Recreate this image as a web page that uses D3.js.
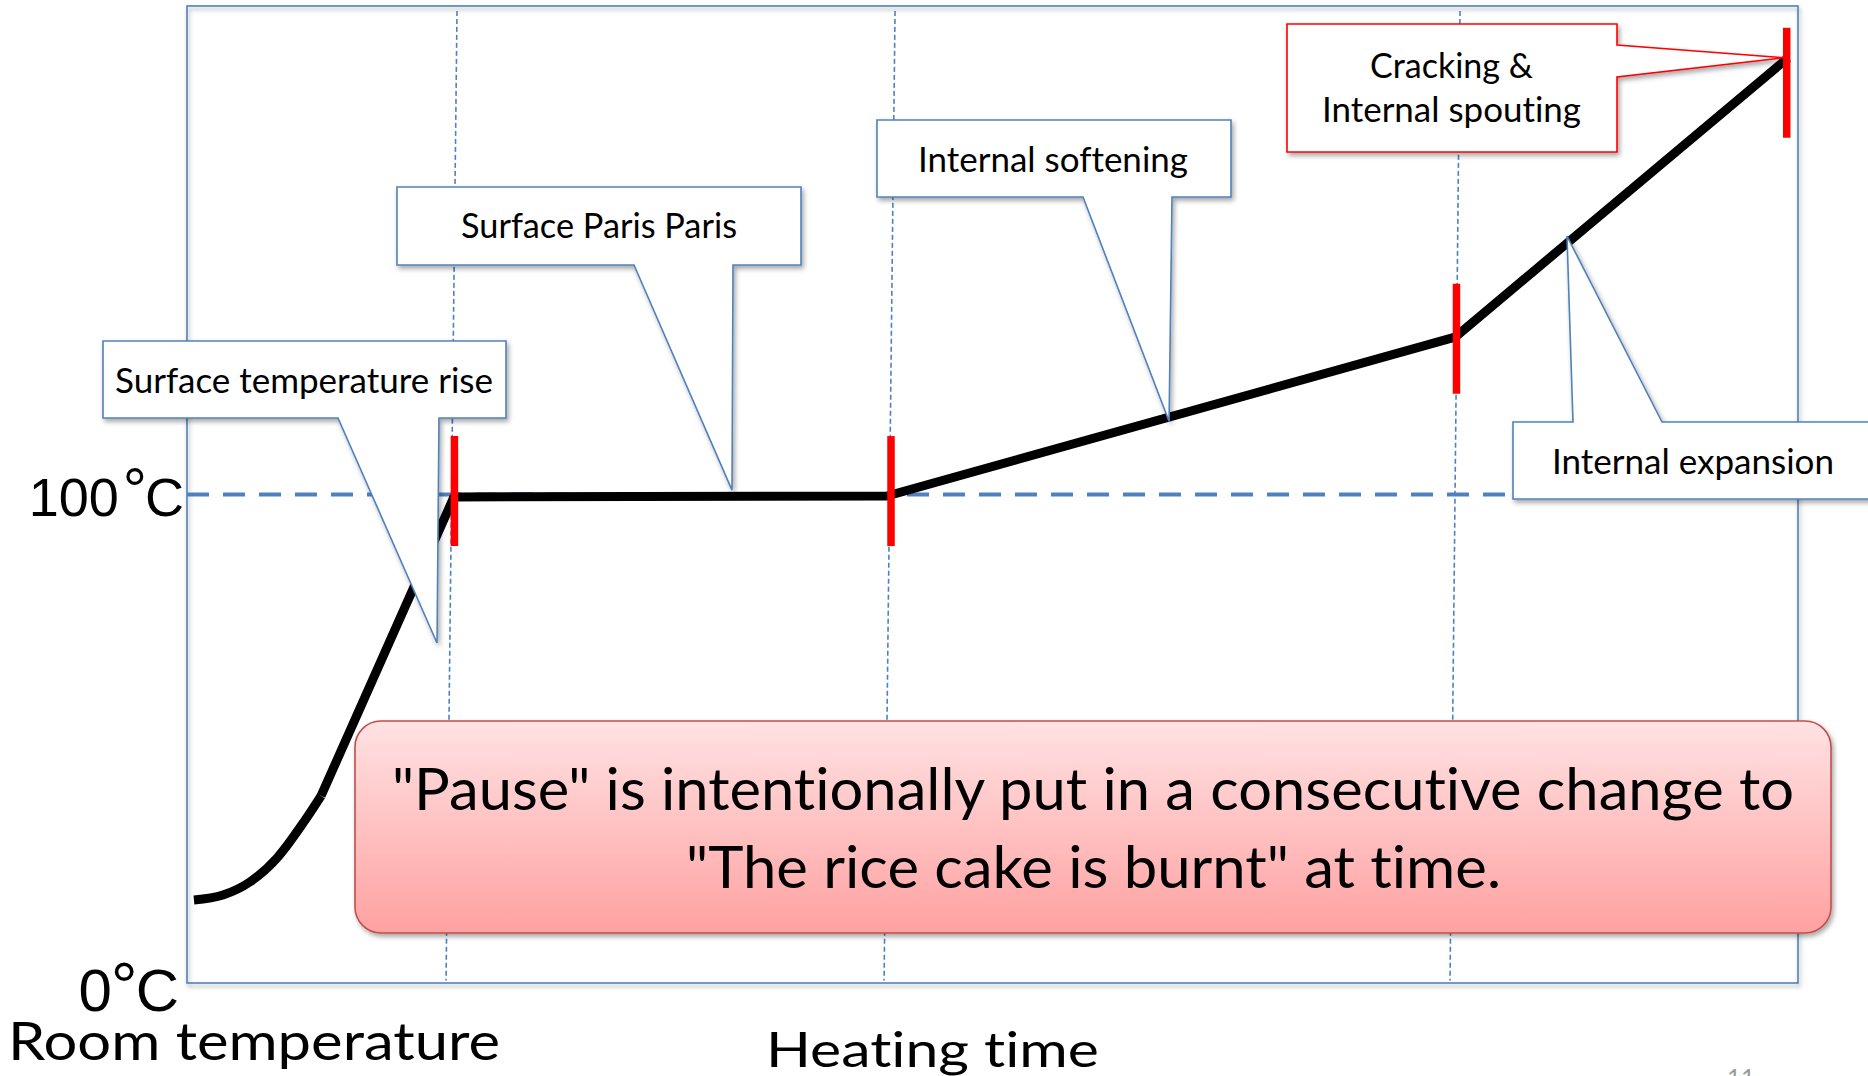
<!DOCTYPE html>
<html><head><meta charset="utf-8">
<script src="https://cdn.jsdelivr.net/npm/d3@7"></script>
<style>html,body{margin:0;padding:0;background:#fff;overflow:hidden} text{font-variant-ligatures:none;font-feature-settings:"liga" 0,"clig" 0}</style>
</head><body><svg id="c" width="1868" height="1076"></svg>
<script>
// ---------- data ----------
const warmupTime = [0.43, 2.23, 3.91, 5.59, 7.26, 8.32];
const warmupTemp = [17.0, 18.0, 20.7, 25.6, 33.0, 38.3];
const heatingTime = [8.32, 16.57, 43.45, 78.71, 99.38];
const heatingTemp = [38.3, 99.5, 99.7, 132.2, 189.4];
const stageTime = [16.6, 43.7, 78.8, 99.3];
const stageTemp = [100.7, 100.7, 131.9, 184.3];
const boundaryTopTime = [16.76, 43.95, 79.02];
const boundaryBottomTime = [16.08, 43.27, 78.40];
const referenceTemp = [100];
const yTickValues = [0, 100];
const yTickLabels = [["0", "°", "C"], ["100", "°", "C"]];
const calloutLabels = [["Surface temperature rise"], ["Surface Paris Paris"], ["Internal softening"], ["Cracking &", "Internal spouting"], ["Internal expansion"]];
const calloutTipTime = [15.52, 33.83, 60.96, 99.13, 85.66];
const calloutTipTemp = [69.6, 100.9, 115.0, 189.4, 152.9];
const noteLines = ['"Pause" is intentionally put in a consecutive change to', '"The rice cake is burnt" at time.'];
const xAxisTitle = "Heating time";
const yAxisTitle = "Room temperature";
const pageNumber = "11";

// ---------- layout ----------
const W = 1868, H = 1076;
const plot = {left: 187, right: 1798, top: 6, bottom: 983};
const x = d3.scaleLinear().domain([0, 100]).range([plot.left, plot.right]);
const y = d3.scaleLinear().domain([0, 200]).range([plot.bottom, plot.top]);
const BLUE = "#4f81bd";
const FONT = "Lato, 'Open Sans', sans-serif";

const calloutLayout = [
  {x: 103, y: 341, w: 403, h: 77, side: "bottom", b1: 338, b2: 439, stroke: BLUE, text: [{x: 115, y: 393, len: 378}]},
  {x: 397, y: 187, w: 404, h: 78, side: "bottom", b1: 634, b2: 733, stroke: BLUE, text: [{x: 461, y: 238, len: 276}]},
  {x: 877, y: 120, w: 354, h: 77, side: "bottom", b1: 1083, b2: 1172, stroke: BLUE, text: [{x: 918, y: 172, len: 270}]},
  {x: 1287, y: 24, w: 330, h: 128, side: "right", b1: 45, b2: 77, stroke: "#ff0000", text: [{x: 1370, y: 78, len: 163}, {x: 1322, y: 122, len: 259}]},
  {x: 1513, y: 422, w: 360, h: 77, side: "top", b1: 1573, b2: 1662, stroke: BLUE, text: [{x: 1552, y: 474, len: 282}]}
];
const tickLabelStyle = [{size: 60, right: 179, ring: 2, gap: -1}, {size: 54, right: 184, ring: 5, gap: 4}];

const svg = d3.select("#c");
const defs = svg.append("defs");
const f = defs.append("filter").attr("id", "sh").attr("x", "-5%").attr("y", "-10%").attr("width", "115%").attr("height", "130%");
f.append("feDropShadow").attr("dx", 2).attr("dy", 3).attr("stdDeviation", 2.5).attr("flood-color", "#000").attr("flood-opacity", 0.35);
const f2 = defs.append("filter").attr("id", "shf").attr("x", "-2%").attr("y", "-2%").attr("width", "104%").attr("height", "104%");
f2.append("feDropShadow").attr("dx", 1.5).attr("dy", 3).attr("stdDeviation", 2).attr("flood-color", "#000").attr("flood-opacity", 0.35);
const g = defs.append("linearGradient").attr("id", "pink").attr("x1", 0).attr("y1", 0).attr("x2", 0).attr("y2", 1);
g.append("stop").attr("offset", "0%").attr("stop-color", "#ffe2e3");
g.append("stop").attr("offset", "100%").attr("stop-color", "#ffa1a1");

svg.append("rect").attr("width", W).attr("height", H).attr("fill", "#fff");

// frame
svg.append("rect")
  .attr("x", x(0)).attr("y", y(200))
  .attr("width", x(100) - x(0)).attr("height", y(0) - y(200))
  .attr("fill", "none").attr("stroke", BLUE).attr("stroke-width", 1.6)
  .attr("filter", "url(#shf)");

// 100 C reference line
svg.selectAll(".ref").data(referenceTemp).enter().append("line")
  .attr("x1", x(0)).attr("x2", x(100))
  .attr("y1", d => y(d)).attr("y2", d => y(d))
  .attr("stroke", BLUE).attr("stroke-width", 4.2).attr("stroke-dasharray", "22,14");

// stage boundaries
svg.selectAll(".bd").data(boundaryTopTime).enter().append("line")
  .attr("x1", d => x(d)).attr("y1", y(199))
  .attr("x2", (d, i) => x(boundaryBottomTime[i])).attr("y2", y(0.5))
  .attr("stroke", BLUE).attr("stroke-width", 1.6).attr("stroke-dasharray", "5,3");

// temperature curve
const warm = warmupTime.map((t, i) => [t, warmupTemp[i]]);
const heat = heatingTime.map((t, i) => [t, heatingTemp[i]]);
svg.append("path").datum(warm)
  .attr("d", d3.line().x(d => x(d[0])).y(d => y(d[1])).curve(d3.curveMonotoneX))
  .attr("fill", "none").attr("stroke", "#000").attr("stroke-width", 9);
svg.append("path").datum(heat)
  .attr("d", d3.line().x(d => x(d[0])).y(d => y(d[1])))
  .attr("fill", "none").attr("stroke", "#000").attr("stroke-width", 9).attr("stroke-linejoin", "round");

// red stage ticks
svg.selectAll(".tk").data(stageTime).enter().append("line")
  .attr("x1", d => x(d)).attr("x2", d => x(d))
  .attr("y1", (d, i) => y(stageTemp[i]) - 55).attr("y2", (d, i) => y(stageTemp[i]) + 55)
  .attr("stroke", "#ff0000").attr("stroke-width", 7.5);

// callouts
calloutLabels.forEach((lines, i) => {
  const L = calloutLayout[i];
  const tx = x(calloutTipTime[i]), ty = y(calloutTipTemp[i]);
  const p = d3.path();
  if (L.side === "bottom") {
    p.moveTo(L.x, L.y); p.lineTo(L.x + L.w, L.y); p.lineTo(L.x + L.w, L.y + L.h);
    p.lineTo(L.b2, L.y + L.h); p.lineTo(tx, ty); p.lineTo(L.b1, L.y + L.h); p.lineTo(L.x, L.y + L.h);
  } else if (L.side === "right") {
    p.moveTo(L.x, L.y); p.lineTo(L.x + L.w, L.y); p.lineTo(L.x + L.w, L.b1);
    p.lineTo(tx, ty); p.lineTo(L.x + L.w, L.b2); p.lineTo(L.x + L.w, L.y + L.h); p.lineTo(L.x, L.y + L.h);
  } else {
    p.moveTo(L.x, L.y); p.lineTo(L.b1, L.y); p.lineTo(tx, ty); p.lineTo(L.b2, L.y);
    p.lineTo(L.x + L.w, L.y); p.lineTo(L.x + L.w, L.y + L.h); p.lineTo(L.x, L.y + L.h);
  }
  p.closePath();
  svg.append("path").attr("d", p.toString())
    .attr("fill", "#fff").attr("stroke", L.stroke).attr("stroke-width", 1.6)
    .attr("filter", "url(#sh)");
  lines.forEach((s, j) => {
    const T = L.text[j];
    svg.append("text").attr("x", T.x).attr("y", T.y)
      .attr("font-family", FONT).attr("font-size", 35).attr("fill", "#000")
      .attr("textLength", T.len).attr("lengthAdjust", "spacingAndGlyphs")
      .text(s);
  });
});

// note box
svg.append("rect").attr("x", 355).attr("y", 721).attr("width", 1476).attr("height", 212)
  .attr("rx", 26).attr("ry", 26)
  .attr("fill", "url(#pink)").attr("stroke", "#c0504d").attr("stroke-width", 1.6)
  .attr("filter", "url(#sh)");
const noteLayout = [{x: 392, y: 810, len: 1402}, {x: 686, y: 888, len: 815}];
noteLines.forEach((s, i) => {
  svg.append("text").attr("x", noteLayout[i].x).attr("y", noteLayout[i].y)
    .attr("font-family", FONT).attr("font-size", 58).attr("fill", "#000")
    .attr("textLength", noteLayout[i].len).attr("lengthAdjust", "spacingAndGlyphs")
    .text(s);
});

// y tick labels
yTickValues.forEach((v, i) => {
  const st = tickLabelStyle[i];
  const base = v === 0 ? y(v) + 28 : y(v) + 21;
  const t = svg.append("text").attr("x", st.right).attr("y", base)
    .attr("text-anchor", "end").attr("font-family", "'Liberation Sans', Arial, sans-serif")
    .attr("font-size", st.size).attr("fill", "#000");
  const parts = yTickLabels[i];
  t.append("tspan").text(parts[0]);
  t.append("tspan").attr("dy", -st.ring).attr("dx", st.gap).attr("font-size", st.size * 1.12).text(parts[1]);
  t.append("tspan").attr("dy", st.ring).attr("dx", -2).text(parts[2]);
});

// axis titles
svg.append("text").attr("x", 8).attr("y", 1060)
  .attr("font-family", FONT).attr("font-size", 52)
  .attr("textLength", 492).attr("lengthAdjust", "spacingAndGlyphs").text(yAxisTitle);
svg.append("text").attr("x", 766).attr("y", 1067)
  .attr("font-family", FONT).attr("font-size", 49)
  .attr("textLength", 333).attr("lengthAdjust", "spacingAndGlyphs").text(xAxisTitle);
svg.append("text").attr("x", 1727).attr("y", 1086)
  .attr("font-family", FONT).attr("font-size", 24).attr("fill", "#999").text(pageNumber);
</script></body></html>
